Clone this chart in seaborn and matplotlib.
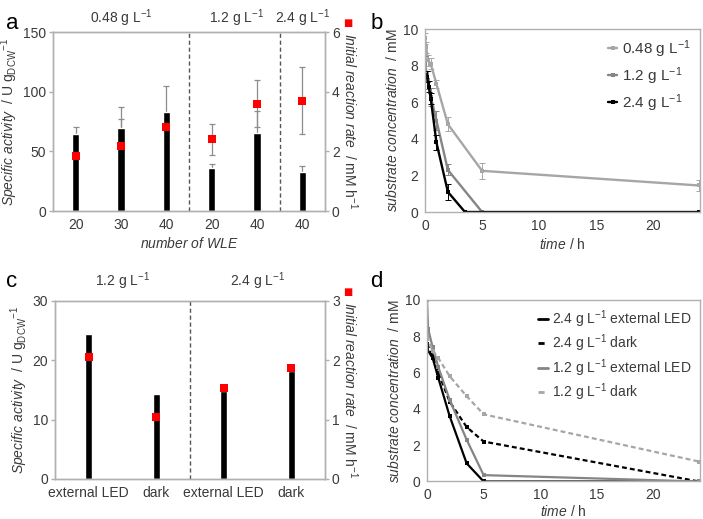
import matplotlib
matplotlib.use("Agg")
import matplotlib.pyplot as plt
from matplotlib.lines import Line2D
import seaborn as sns

# panel a: specific activity (bars) and initial rate (red squares)
a_labels = ['20', '30', '40', '20', '40', '40']
a_activity = [64.5, 69.5, 83, 36, 65, 32.5]
a_activity_err = [6, 18, 22, 3.5, 19, 5]
a_rate = [1.85, 2.19, 2.83, 2.40, 3.60, 3.70]
a_rate_err = [0, 0.88, 0, 0.53, 0.8, 1.13]
a_groups = ['0.48 g L$^{-1}$', '1.2 g L$^{-1}$', '2.4 g L$^{-1}$']

# panel b: substrate over time for three cell densities
b_t_048 = [0, 0.1, 0.25, 0.5, 1, 2, 5, 24]
b_c_048 = [9.5, 9.0, 8.3, 8.1, 7.0, 4.8, 2.25, 1.45]
b_e_048 = [0.3, 0.3, 0.3, 0.3, 0.2, 0.4, 0.45, 0.3]
b_t_12 = [0, 0.25, 0.5, 1, 2, 5]
b_c_12 = [8.1, 7.2, 6.3, 5.0, 2.3, 0]
b_e_12 = [0.4, 0.5, 0.5, 0.5, 0.3, 0]
b_t_24 = [0, 0.17, 0.33, 0.5, 1, 2, 3.5, 24]
b_c_24 = [7.5, 7.4, 6.85, 6.2, 3.8, 1.1, 0, 0]
b_e_24 = [0.2, 0.3, 0.3, 0.3, 0.4, 0.45, 0, 0]

# panel c: external LED vs dark
c_labels = ['external LED', 'dark', 'external LED', 'dark']
c_activity = [24.5, 14.4, 14.8, 18.2]
c_rate = [2.05, 1.04, 1.53, 1.87]
c_groups = ['1.2 g L$^{-1}$', '2.4 g L$^{-1}$']

# panel d: substrate over time, LED vs dark
d_t = [0, 0.5, 1, 2, 3.5, 5, 24]
d_24_led = [7.3, 6.8, 5.7, 3.6, 1.0, 0, 0]
d_24_dark = [7.6, 6.9, 6.0, 4.4, 3.0, 2.2, 0]
d_t_12_led = [0, 0.1, 0.5, 1, 2, 3.5, 5, 24]
d_12_led = [10.0, 8.4, 7.4, 6.3, 4.5, 2.3, 0.35, 0]
d_12_dark = [8.0, 7.2, 6.8, 5.8, 4.7, 3.7, 1.1]

sns.set_style('white')
plt.rcParams['font.family'] = ['Liberation Sans', 'DejaVu Sans']
plt.rcParams['mathtext.fontset'] = 'custom'
plt.rcParams['mathtext.rm'] = 'Liberation Sans'
plt.rcParams['mathtext.it'] = 'Liberation Sans:italic'
plt.rcParams['mathtext.default'] = 'regular'

TXT = '#3a3a3a'
SPINE = '#b0b0b0'
LIGHT = '#a6a6a6'
MID = '#858585'
FS = 9


def style_axes(ax):
    for s in ax.spines.values():
        s.set_color(SPINE)
        s.set_linewidth(1)
    ax.tick_params(colors=SPINE, labelcolor=TXT, labelsize=FS + 1, length=3, width=1,
                   pad=2)


fig = plt.figure(figsize=(7.03, 5.19), dpi=100)
ax_a = fig.add_axes([0.0754, 0.5934, 0.3869, 0.3449])
ax_b = fig.add_axes([0.6046, 0.5915, 0.3912, 0.3526])
ax_c = fig.add_axes([0.0782, 0.0771, 0.3841, 0.3430])
ax_d = fig.add_axes([0.6074, 0.0723, 0.3883, 0.3497])

act_label = r'$\it{Specific\ activity}$  / U g$_{DCW}$$^{-1}$'
rate_label = r'$\it{Initial\ reaction\ rate}$  / mM h$^{-1}$'


def bar_panel(ax, labels, act, rate, act_err, rate_err, width, ymax, rmax, yticks, rticks):
    pos = list(range(len(labels)))
    scale = ymax / rmax
    if act_err is not None:
        ax.errorbar(pos, act, yerr=act_err, fmt='none', ecolor='#8c8c8c', elinewidth=0.9,
                    capsize=2.5, capthick=0.9, zorder=1)
    if rate_err is not None:
        # rate error bars drawn behind the bars (in left-axis units)
        ax.errorbar(pos, [r * scale for r in rate], yerr=[e * scale for e in rate_err],
                    fmt='none', ecolor='#8c8c8c', elinewidth=0.9, capsize=2.5,
                    capthick=0.9, zorder=1)
    sns.barplot(x=pos, y=act, color='black', width=width, saturation=1, ax=ax,
                errorbar=None, zorder=2)
    ax.set_xlim(-0.5, len(labels) - 0.5)
    ax.set_ylim(0, ymax)
    ax.set_yticks(yticks)
    ax.set_xticks(pos)
    ax.set_xticklabels(labels)
    ax.set_ylabel(act_label, fontsize=FS + 1, color=TXT, labelpad=2)
    ax2 = ax.twinx()
    sns.scatterplot(x=pos, y=rate, marker='s', color='red', s=30, linewidth=0, ax=ax2,
                    zorder=3)
    ax2.set_ylim(0, rmax)
    ax2.set_yticks(rticks)
    ax2.set_ylabel(rate_label, fontsize=FS + 1, color=TXT, rotation=270, labelpad=14)
    style_axes(ax)
    style_axes(ax2)
    return ax2


# panel a
ax2a = bar_panel(ax_a, a_labels, a_activity, a_rate, a_activity_err, a_rate_err,
                 0.16, 150, 6, [0, 50, 100, 150], [0, 2, 4, 6])
for xv in [2.5, 4.5]:
    ax_a.axvline(xv, color='#555555', ls='--', lw=1, dashes=(3, 2))
for xg, g in zip([1, 3.55, 5.0], a_groups):
    ax_a.text(xg, 1.015, g, transform=ax_a.get_xaxis_transform(), ha='center', va='bottom',
              fontsize=FS + 1, color=TXT)
ax_a.set_xlabel(r'$\it{number\ of\ WLE}$', fontsize=FS + 1, color=TXT, labelpad=3)
fig.text(0.494, 0.955, '■', color='red', fontsize=7, ha='center', va='center',
         family='DejaVu Sans')

# panel c
ax2c = bar_panel(ax_c, c_labels, c_activity, c_rate, None, None,
                 0.10, 30, 3, [0, 10, 20, 30], [0, 1, 2, 3])
ax_c.axvline(1.5, color='#555555', ls='--', lw=1, dashes=(3, 2))
for xg, g in zip([0.5, 2.5], c_groups):
    ax_c.text(xg, 1.05, g, transform=ax_c.get_xaxis_transform(), ha='center', va='bottom',
              fontsize=FS + 1, color=TXT)
fig.text(0.494, 0.437, '■', color='red', fontsize=7, ha='center', va='center',
         family='DejaVu Sans')

# panel b
conc_label = r'$\it{substrate\ concentration}$  / mM'
time_label = r'$\it{time}$ / h'
for t, c, e, col, lab in [(b_t_048, b_c_048, b_e_048, LIGHT, '0.48 g L$^{-1}$'),
                          (b_t_12, b_c_12, b_e_12, MID, '1.2 g L$^{-1}$'),
                          (b_t_24, b_c_24, b_e_24, 'black', '2.4 g L$^{-1}$')]:
    ax_b.errorbar(t, c, yerr=e, fmt='none', ecolor=col, elinewidth=0.7, capsize=2.5,
                  capthick=0.7)
    sns.lineplot(x=t, y=c, color=col, lw=1.7, marker='s', markersize=3.5,
                 markeredgewidth=0, estimator=None, sort=False, label=lab, ax=ax_b)
ax_b.set_xlim(0, 24.1)
ax_b.set_ylim(0, 10)
ax_b.set_xticks([0, 5, 10, 15, 20])
ax_b.set_yticks([0, 2, 4, 6, 8, 10])
ax_b.set_xlabel(time_label, fontsize=FS + 1, color=TXT, labelpad=3)
ax_b.set_ylabel(conc_label, fontsize=FS + 1, color=TXT, labelpad=2)
ax_b.legend(loc='upper right', frameon=False, fontsize=FS + 2, handlelength=0.6,
            handletextpad=0.3, labelspacing=0.35, borderaxespad=0.2, labelcolor=TXT)
style_axes(ax_b)

# panel d
dash = (0, (2.2, 1.4))
for t, c, col, ls, lab in [(d_t, d_24_led, 'black', '-', '2.4 g L$^{-1}$ external LED'),
                           (d_t, d_24_dark, 'black', dash, '2.4 g L$^{-1}$ dark'),
                           (d_t_12_led, d_12_led, MID, '-', '1.2 g L$^{-1}$ external LED'),
                           (d_t, d_12_dark, LIGHT, dash, '1.2 g L$^{-1}$ dark')]:
    sns.lineplot(x=t, y=c, color=col, lw=1.6, linestyle=ls, marker='s', markersize=3,
                 markeredgewidth=0, estimator=None, sort=False, label=lab, ax=ax_d)
ax_d.set_xlim(0, 24.1)
ax_d.set_ylim(0, 10)
ax_d.set_xticks([0, 5, 10, 15, 20])
ax_d.set_yticks([0, 2, 4, 6, 8, 10])
ax_d.set_xlabel(time_label, fontsize=FS + 1, color=TXT, labelpad=1)
ax_d.set_ylabel(conc_label, fontsize=FS + 1, color=TXT, labelpad=2)
handles = [Line2D([], [], color='black', lw=2, ls='-'),
           Line2D([], [], color='black', lw=2, ls=dash),
           Line2D([], [], color=MID, lw=2, ls='-'),
           Line2D([], [], color=LIGHT, lw=2, ls=dash)]
ax_d.legend(handles, [l.get_label() for l in ax_d.get_lines()],
            loc='upper right', frameon=False, fontsize=FS + 1, handlelength=0.7,
            handletextpad=0.3, labelspacing=0.2, borderaxespad=0.2, labelcolor=TXT)
style_axes(ax_d)

for x, y, s in [(0.008, 0.975, 'a'), (0.527, 0.975, 'b'), (0.008, 0.478, 'c'),
                (0.527, 0.478, 'd')]:
    fig.text(x, y, s, fontsize=16, va='top', ha='left', color='black')

fig.savefig('out.png', dpi=100)
